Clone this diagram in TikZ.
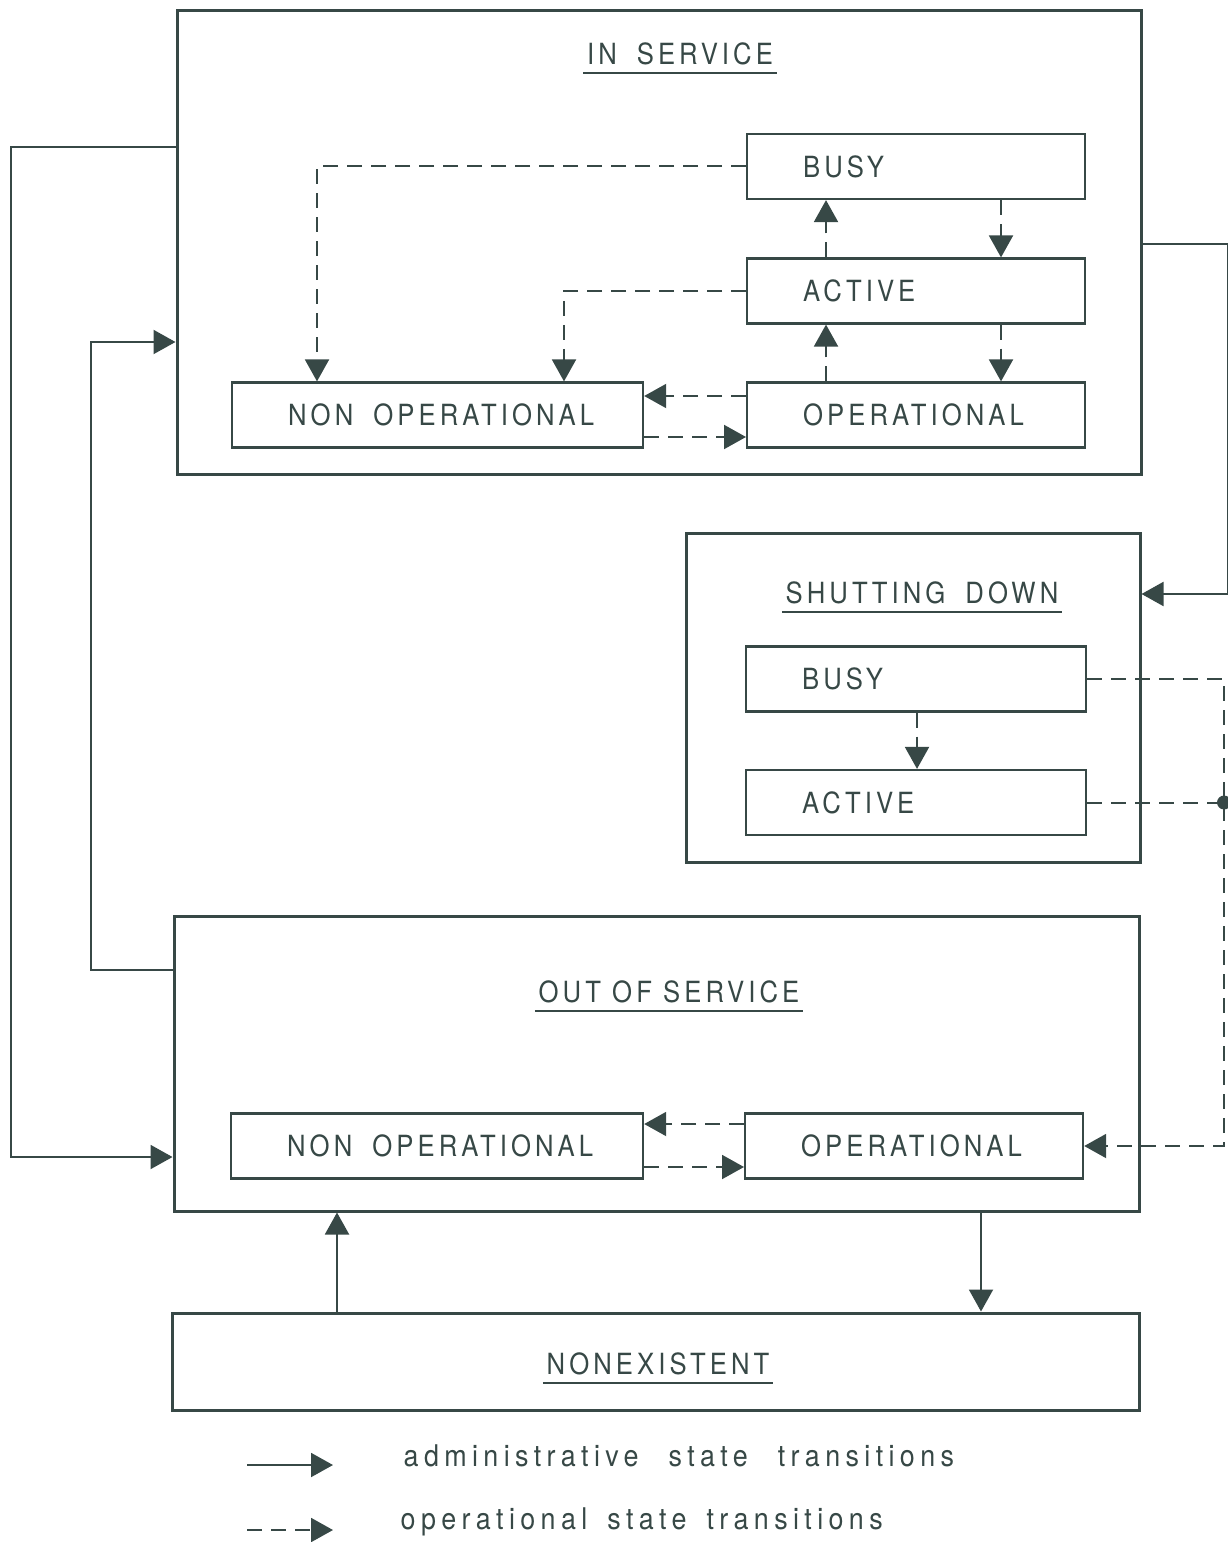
\documentclass[tikz,border=0pt]{standalone}
\usepackage{fontspec}
\newfontfamily\plotfont[FakeStretch=0.88,LetterSpace=14]{TeX Gyre Heros}
\newfontfamily\legendfont[FakeStretch=0.9,LetterSpace=18]{TeX Gyre Heros}
\usetikzlibrary{arrows.meta}
\definecolor{ink}{RGB}{55,72,70}

\begin{document}
\begin{tikzpicture}[
  color=ink, line cap=butt, line join=miter,
  font=\plotfont\fontsize{8.3}{10}\selectfont,
  group/.style={draw, line width=0.03cm, inner sep=0pt},
  state/.style={draw, line width=0.022cm, anchor=west, minimum height=0.65cm,
    inner xsep=0.56cm, inner ysep=0pt, text width=#1, align=left},
  title/.style={inner xsep=0.03cm, inner ysep=0.07cm},
  admin/.style={line width=0.02cm, -{Triangle[length=0.22cm,width=0.24cm]}},
  oper/.style={admin, dash pattern=on 0.15cm off 0.09cm},
  dot/.style={circle, fill, inner sep=0pt, minimum size=0.14cm}
]

% ---------------------------
% Frame (1px of the scan = 0.01cm)
% ---------------------------
\useasboundingbox (0,0) rectangle (12.28,-15.42);
\def\gap{\hspace{0.2cm}}
\def\wgap{\hspace{0.3cm}}

% ---------------------------
% Administrative states (outer boxes)
% ---------------------------
\node[group, minimum width=9.64cm, minimum height=4.63cm] (IS)  at (6.59,-2.425) {};
\node[group, minimum width=4.54cm, minimum height=3.29cm] (SD)  at (9.13,-6.975) {};
\node[group, minimum width=9.65cm, minimum height=2.95cm] (OOS) at (6.565,-10.635) {};
\node[group, minimum width=9.67cm, minimum height=0.97cm] (NE)  at (6.555,-13.615) {};

% titles, underlined
\node[title] (ist) at (6.80,-0.54)  {IN\gap SERVICE};
\node[title] (sdt) at (9.22,-5.93)  {SHUTTING\gap DOWN};
\node[title] (ost) at (6.69,-9.92)  {OUT OF SERVICE};
\node[title] (net) at (6.58,-13.64) {NONEXISTENT};
\foreach \t in {ist,sdt,ost,net}
  \draw[line width=0.022cm] (\t.south west) -- (\t.south east);

% ---------------------------
% Operational states (inner boxes)
% ---------------------------
\node[state=2.26cm] (ib)   at (7.46,-1.665)  {BUSY};
\node[state=2.26cm] (ia)   at (7.46,-2.91)   {ACTIVE};
\node[state=2.26cm] (iop)  at (7.46,-4.15)   {OPERATIONAL};
\node[state=2.99cm] (inop) at (2.31,-4.15)   {NON\gap OPERATIONAL};

\node[state=2.28cm] (sb)   at (7.45,-6.79)   {BUSY};
\node[state=2.28cm] (sa)   at (7.45,-8.025)  {ACTIVE};

\node[state=3.00cm] (onop) at (2.30,-11.46)  {NON\gap OPERATIONAL};
\node[state=2.26cm] (oop)  at (7.44,-11.46)  {OPERATIONAL};

% ---------------------------
% Administrative state transitions
% ---------------------------
\draw[admin] (IS.west |- 0,-1.47) -- ++(-1.65,0) |- (OOS.west |- 0,-11.57);
\draw[admin] (OOS.west |- 0,-9.70) -- ++(-0.82,0) |- (IS.west |- 0,-3.42);
\draw[admin] (IS.east |- 0,-2.44) -- ++(0.85,0) |- (SD.east |- 0,-5.94);
\draw[admin] (NE.north -| 3.37,0) -- (OOS.south -| 3.37,0);
\draw[admin] (OOS.south -| 9.81,0) -- (NE.north -| 9.81,0);

% ---------------------------
% Operational state transitions
% ---------------------------
% in service
\draw[oper] (ib.west) -| (inop.north -| 3.17,0);
\draw[oper] (ia.west) -| (inop.north -| 5.64,0);
\draw[oper] (ia.north -| 8.26,0) -- (ib.south -| 8.26,0);
\draw[oper] (ib.south -| 10.01,0) -- (ia.north -| 10.01,0);
\draw[oper] (iop.north -| 8.26,0) -- (ia.south -| 8.26,0);
\draw[oper] (ia.south -| 10.01,0) -- (iop.north -| 10.01,0);
\draw[oper] (iop.west |- 0,-3.96) -- (inop.east |- 0,-3.96);
\draw[oper] (inop.east |- 0,-4.37) -- (iop.west |- 0,-4.37);

% shutting down, and on to out of service
\coordinate (rail) at (12.24,0);
\draw[oper] (sb.south -| 9.17,0) -- (sa.north -| 9.17,0);
\draw[oper] (sb.east) -- (sb.east -| rail) |- (oop.east);
\draw[oper, -] (sa.east) -- (sa.east -| rail) node[dot] (join) {};

% out of service
\draw[oper] (oop.west |- 0,-11.24) -- (onop.east |- 0,-11.24);
\draw[oper] (onop.east |- 0,-11.67) -- (oop.west |- 0,-11.67);

% ---------------------------
% Legend
% ---------------------------
\coordinate (k1) at (2.47,-14.65);
\coordinate (k2) at (2.47,-15.30);
\draw[admin] (k1) -- ++(0.86,0);
\draw[oper]  (k2) -- ++(0.86,0);
\node[anchor=west, inner sep=0pt, font=\legendfont\fontsize{8.5}{10}\selectfont] (t1)
  at (4.03,-14.56) {administrative\wgap state\wgap transitions};
\node[anchor=west, inner sep=0pt, font=\legendfont\fontsize{8.5}{10}\selectfont] (t2)
  at (4.00,-15.22) {operational\gap state\gap transitions};

\end{tikzpicture}
\end{document}
